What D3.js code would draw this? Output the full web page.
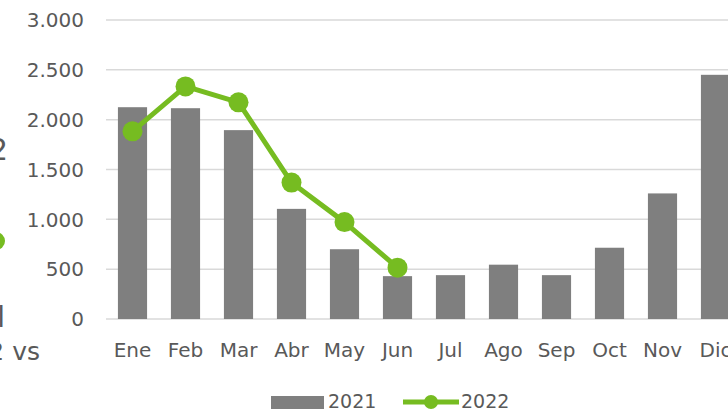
<!DOCTYPE html>
<html><head><meta charset="utf-8">
<script src="https://cdn.jsdelivr.net/npm/d3@7"></script>
<style>
html,body{margin:0;padding:0;background:#fff;}
svg{display:block;font-family:"DejaVu Sans",sans-serif;}
</style></head>
<body>
<svg id="c" width="728" height="411"></svg>
<script>
const months = ["Ene","Feb","Mar","Abr","May","Jun","Jul","Ago","Sep","Oct","Nov","Dic"];
const values2021 = [2125, 2115, 1895, 1105, 700, 430, 440, 545, 440, 715, 1260, 2450];
const values2022 = [1883, 2334, 2174, 1369, 972, 515];
const yTicks = [0, 500, 1000, 1500, 2000, 2500, 3000];
const seriesNames = ["2021", "2022"];

const svg = d3.select("#c");
const textColor = "#595959";
const barColor = "#7f7f7f";
const lineColor = "#76bc21";

const x = d3.scaleBand().domain(months).range([106, 742]).paddingInner(0.45).paddingOuter(0.225);
const y = d3.scaleLinear().domain([0, 3000]).range([319, 20]);
const fmt = v => d3.format(",")(v).replace(/,/g, ".");

// gridlines
svg.append("g").selectAll("line").data(yTicks).join("line")
  .attr("x1", 106).attr("x2", 728)
  .attr("y1", d => y(d)).attr("y2", d => y(d))
  .attr("stroke", "#d9d9d9").attr("stroke-width", 1.5);

// y labels
svg.append("g").selectAll("text").data(yTicks).join("text")
  .attr("x", 84).attr("y", d => y(d)).attr("dy", "0.36em")
  .attr("text-anchor", "end").attr("font-size", 20).attr("fill", textColor)
  .text(fmt);

// bars
svg.append("g").selectAll("rect").data(values2021).join("rect")
  .attr("x", (d, i) => x(months[i])).attr("width", x.bandwidth())
  .attr("y", d => y(d)).attr("height", d => y(0) - y(d))
  .attr("fill", barColor);

// line
const line = d3.line().x((d, i) => x(months[i]) + x.bandwidth() / 2).y(d => y(d));
svg.append("path").datum(values2022).attr("d", line)
  .attr("fill", "none").attr("stroke", lineColor).attr("stroke-width", 5).attr("stroke-linejoin", "round");
svg.append("g").selectAll("circle").data(values2022).join("circle")
  .attr("cx", (d, i) => x(months[i]) + x.bandwidth() / 2).attr("cy", d => y(d))
  .attr("r", 10).attr("fill", lineColor);

// x labels
svg.append("g").selectAll("text").data(months).join("text")
  .attr("x", d => x(d) + x.bandwidth() / 2).attr("y", 357)
  .attr("text-anchor", "middle").attr("font-size", 20).attr("fill", textColor)
  .text(d => d);

// legend
const lg = svg.append("g");
lg.append("rect").attr("x", 271).attr("y", 396).attr("width", 53).attr("height", 13).attr("fill", barColor);
lg.append("text").attr("x", 328).attr("y", 408).attr("font-size", 19).attr("fill", textColor).text(seriesNames[0]);
lg.append("line").attr("x1", 403).attr("x2", 459).attr("y1", 402).attr("y2", 402)
  .attr("stroke", lineColor).attr("stroke-width", 5);
lg.append("circle").attr("cx", 431).attr("cy", 402).attr("r", 7).attr("fill", lineColor);
lg.append("text").attr("x", 461).attr("y", 408).attr("font-size", 19).attr("fill", textColor).text(seriesNames[1]);

// cropped fragments at left edge (parts of neighbouring slide text)
svg.append("text").attr("x", 8).attr("y", 160).attr("text-anchor", "end").attr("font-size", 30).attr("fill", textColor).text("2");
svg.append("circle").attr("cx", -4).attr("cy", 241).attr("r", 9).attr("fill", lineColor);
svg.append("text").attr("x", 5).attr("y", 327).attr("text-anchor", "end").attr("font-size", 28).attr("fill", textColor).text("l");
svg.append("text").attr("x", 40).attr("y", 360).attr("text-anchor", "end").attr("font-size", 25).attr("fill", textColor).text("2 vs");
</script>
</body></html>
